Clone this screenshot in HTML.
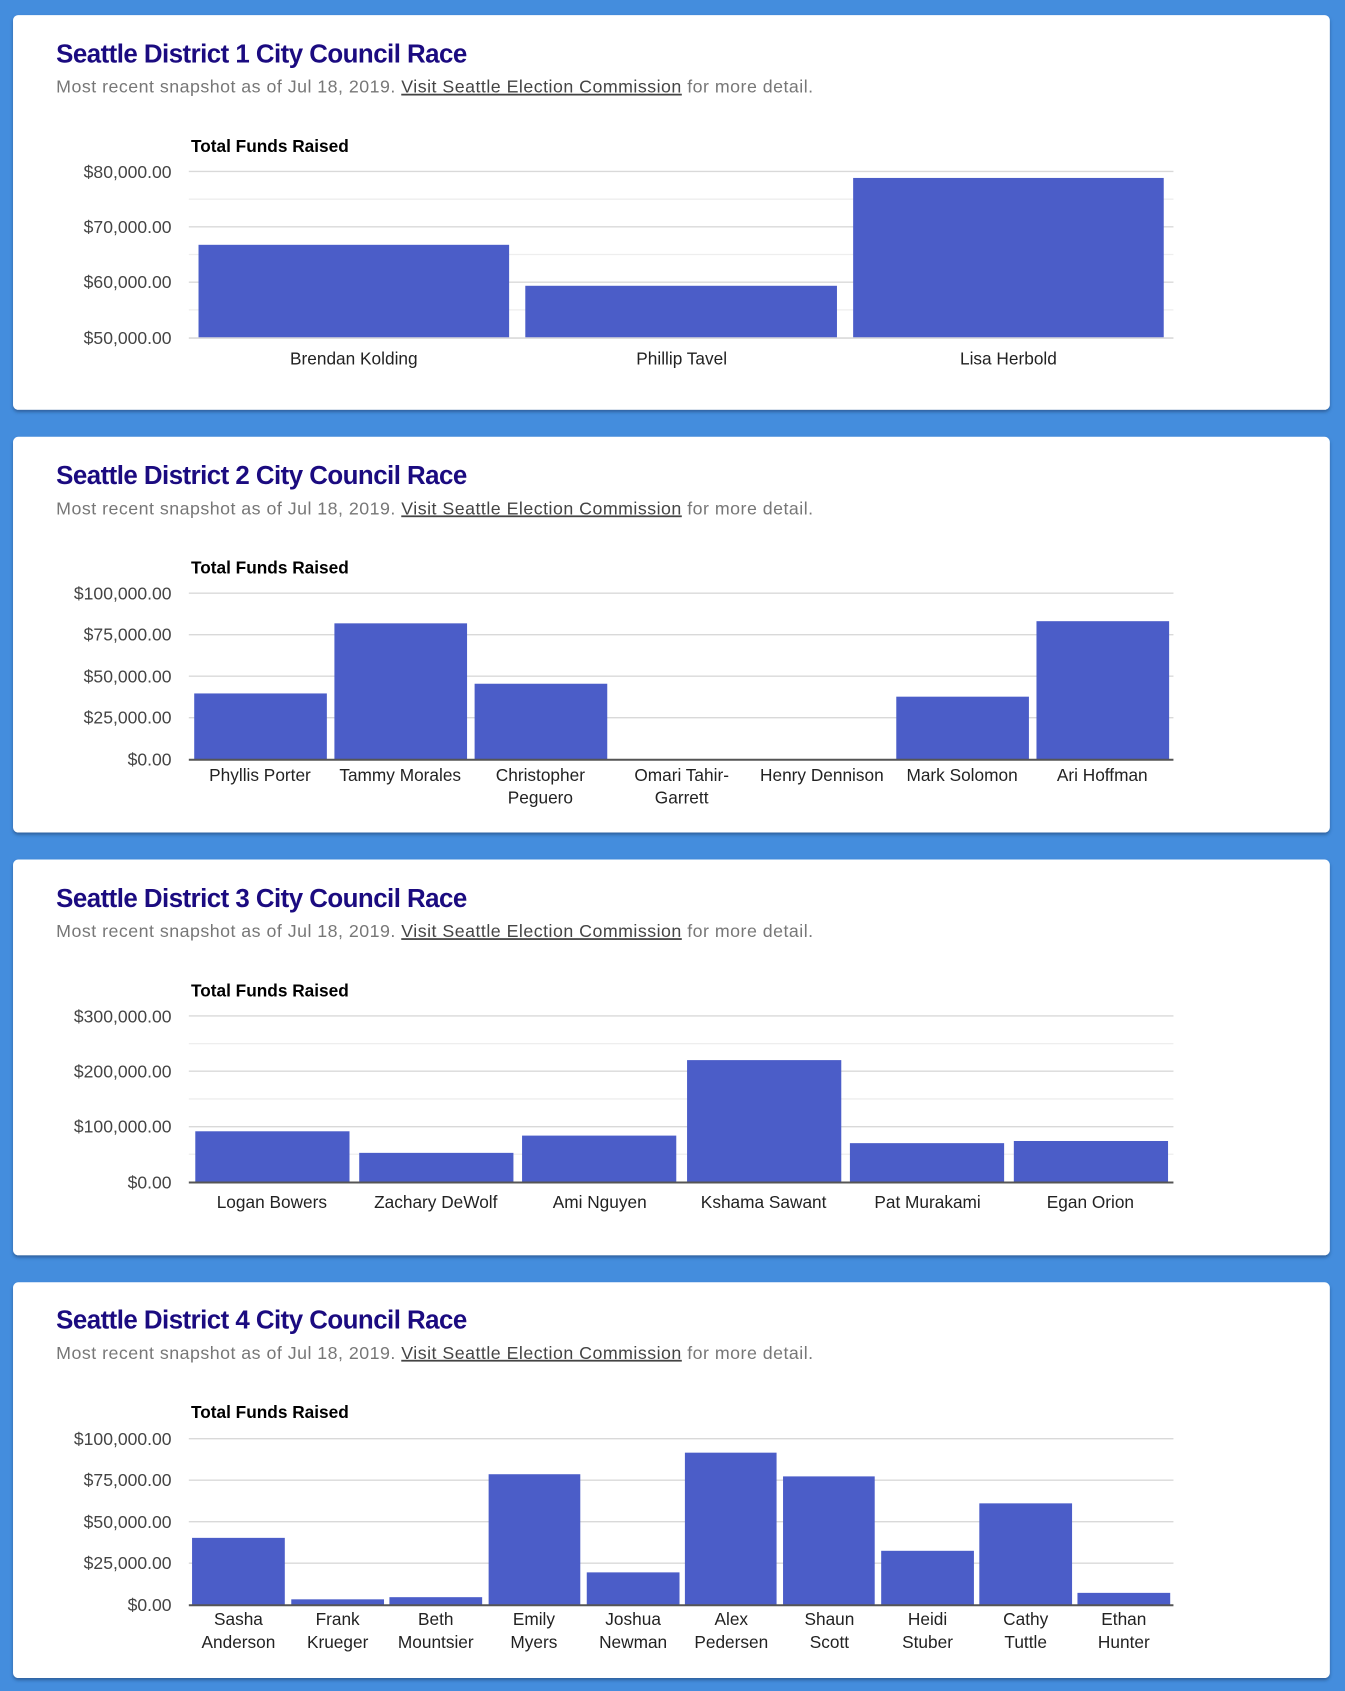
<!DOCTYPE html>
<html><head><meta charset="utf-8"><style>
html,body{margin:0;padding:0;background:#448ddd;width:1345px;height:1691px;overflow:hidden}
svg{display:block}
</style></head><body>
<svg width="1345" height="1691" viewBox="0 0 1247 1568" xmlns="http://www.w3.org/2000/svg" font-family="Liberation Sans, sans-serif">
<defs><filter id="sh" x="-2%" y="-2%" width="104%" height="106%"><feDropShadow dx="0" dy="2" stdDeviation="1.5" flood-color="#1a3f70" flood-opacity="0.6"/></filter></defs>
<rect width="1247" height="1568" fill="#448ddd"/>
<g filter="url(#sh)" fill="#fff">
<rect x="12" y="14" width="1221" height="366" rx="5"/>
<rect x="12" y="405" width="1221" height="367" rx="5"/>
<rect x="12" y="797" width="1221" height="367" rx="5"/>
<rect x="12" y="1189" width="1221" height="367" rx="5"/>
</g>
<g>
<g font-size="24" fill="#1b0b80" font-weight="bold" style="letter-spacing:-0.5px">
<text x="52" y="58">Seattle District 1 City Council Race</text>
<text x="52" y="449">Seattle District 2 City Council Race</text>
<text x="52" y="841">Seattle District 3 City Council Race</text>
<text x="52" y="1232">Seattle District 4 City Council Race</text>
</g>
<g font-size="16.5" fill="#777" style="letter-spacing:0.45px">
<text x="52" y="86">Most recent snapshot as of Jul 18, 2019. <tspan fill="#444" text-decoration="underline">Visit Seattle Election Commission</tspan> for more detail.</text>
<text x="52" y="477">Most recent snapshot as of Jul 18, 2019. <tspan fill="#444" text-decoration="underline">Visit Seattle Election Commission</tspan> for more detail.</text>
<text x="52" y="869">Most recent snapshot as of Jul 18, 2019. <tspan fill="#444" text-decoration="underline">Visit Seattle Election Commission</tspan> for more detail.</text>
<text x="52" y="1260">Most recent snapshot as of Jul 18, 2019. <tspan fill="#444" text-decoration="underline">Visit Seattle Election Commission</tspan> for more detail.</text>
</g>
<g font-size="16" font-weight="bold" fill="#000">
<text x="177" y="141">Total Funds Raised</text>
<text x="177" y="532">Total Funds Raised</text>
<text x="177" y="924">Total Funds Raised</text>
<text x="177" y="1315">Total Funds Raised</text>
</g>
<g stroke="#d9d9d9" stroke-width="1.3">
<path d="M175 159H1088M175 210.3H1088M175 261.7H1088"/>
<path d="M175 550H1088M175 588.5H1088M175 627H1088M175 665.5H1088"/>
<path d="M175 942H1088M175 993.3H1088M175 1044.7H1088"/>
<path d="M175 1334H1088M175 1372.5H1088M175 1411H1088M175 1449.5H1088"/>
</g>
<g stroke="#eeeeee" stroke-width="1.2">
<path d="M175 184.7H1088M175 236H1088M175 287.3H1088"/>
<path d="M175 967.7H1088M175 1019H1088M175 1070.3H1088"/>
</g>
<g fill="#4b5dc8">
<rect x="184" y="227" width="288" height="86"/>
<rect x="487" y="265" width="289" height="48"/>
<rect x="791" y="165" width="288" height="148"/>

<rect x="180" y="643" width="123" height="61"/>
<rect x="310" y="578" width="123" height="126"/>
<rect x="440" y="634" width="123" height="70"/>
<rect x="831" y="646" width="123" height="58"/>
<rect x="961" y="576" width="123" height="128"/>

<rect x="181" y="1049" width="143" height="47"/>
<rect x="333" y="1069" width="143" height="27"/>
<rect x="484" y="1053" width="143" height="43"/>
<rect x="637" y="983" width="143" height="113"/>
<rect x="788" y="1060" width="143" height="36"/>
<rect x="940" y="1058" width="143" height="38"/>

<rect x="178" y="1426" width="86" height="62"/>
<rect x="270" y="1483" width="86" height="5"/>
<rect x="361" y="1481" width="86" height="7"/>
<rect x="453" y="1367" width="85" height="121"/>
<rect x="544" y="1458" width="86" height="30"/>
<rect x="635" y="1347" width="85" height="141"/>
<rect x="726" y="1369" width="85" height="119"/>
<rect x="817" y="1438" width="86" height="50"/>
<rect x="908" y="1394" width="86" height="94"/>
<rect x="999" y="1477" width="86" height="11"/>
</g>
<g stroke="#d9d9d9" stroke-width="1.5"><path d="M175 313.5H1088"/></g>
<g stroke="#555" stroke-width="1.8">
<path d="M175 704.5H1088M175 1096.5H1088M175 1488.5H1088"/>
</g>
<g font-size="16.3" fill="#444" text-anchor="end">
<text x="159" y="165">$80,000.00</text><text x="159" y="216">$70,000.00</text><text x="159" y="267">$60,000.00</text><text x="159" y="319">$50,000.00</text>
<text x="159" y="556">$100,000.00</text><text x="159" y="594">$75,000.00</text><text x="159" y="633">$50,000.00</text><text x="159" y="671">$25,000.00</text><text x="159" y="710">$0.00</text>
<text x="159" y="948">$300,000.00</text><text x="159" y="999">$200,000.00</text><text x="159" y="1050">$100,000.00</text><text x="159" y="1102">$0.00</text>
<text x="159" y="1340">$100,000.00</text><text x="159" y="1378">$75,000.00</text><text x="159" y="1417">$50,000.00</text><text x="159" y="1455">$25,000.00</text><text x="159" y="1494">$0.00</text>
</g>
<g font-size="16" fill="#222" text-anchor="middle">
<text x="328" y="338">Brendan Kolding</text><text x="632" y="338">Phillip Tavel</text><text x="935" y="338">Lisa Herbold</text>

<text x="241" y="724">Phyllis Porter</text><text x="371" y="724">Tammy Morales</text>
<text x="501" y="724">Christopher</text><text x="501" y="745">Peguero</text>
<text x="632" y="724">Omari Tahir-</text><text x="632" y="745">Garrett</text>
<text x="762" y="724">Henry Dennison</text><text x="892" y="724">Mark Solomon</text><text x="1022" y="724">Ari Hoffman</text>

<text x="252" y="1120">Logan Bowers</text><text x="404" y="1120">Zachary DeWolf</text><text x="556" y="1120">Ami Nguyen</text>
<text x="708" y="1120">Kshama Sawant</text><text x="860" y="1120">Pat Murakami</text><text x="1011" y="1120">Egan Orion</text>

<text x="221" y="1507">Sasha</text><text x="221" y="1528">Anderson</text>
<text x="313" y="1507">Frank</text><text x="313" y="1528">Krueger</text>
<text x="404" y="1507">Beth</text><text x="404" y="1528">Mountsier</text>
<text x="495" y="1507">Emily</text><text x="495" y="1528">Myers</text>
<text x="587" y="1507">Joshua</text><text x="587" y="1528">Newman</text>
<text x="678" y="1507">Alex</text><text x="678" y="1528">Pedersen</text>
<text x="769" y="1507">Shaun</text><text x="769" y="1528">Scott</text>
<text x="860" y="1507">Heidi</text><text x="860" y="1528">Stuber</text>
<text x="951" y="1507">Cathy</text><text x="951" y="1528">Tuttle</text>
<text x="1042" y="1507">Ethan</text><text x="1042" y="1528">Hunter</text>
</g>
</g>
</svg>
</body></html>
